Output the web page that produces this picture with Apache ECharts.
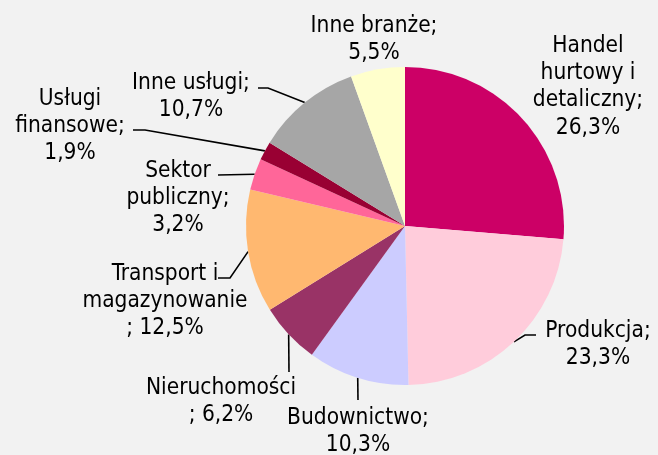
<!DOCTYPE html>
<html>
<head>
<meta charset="utf-8">
<style>
  html, body { margin: 0; padding: 0; background: #f2f2f2; }
  #chart { width: 658px; height: 455px; }
</style>
<script src="https://cdn.jsdelivr.net/npm/echarts@6/dist/echarts.min.js"></script>
</head>
<body>
<div id="chart"></div>
<script>
// Sectors, clockwise from 12 o'clock
const categories = [
  'Handel hurtowy i detaliczny',
  'Produkcja',
  'Budownictwo',
  'Nieruchomości',
  'Transport i magazynowanie',
  'Sektor publiczny',
  'Usługi finansowe',
  'Inne usługi',
  'Inne branże'
];
// Share of each sector, %
const values = [26.3, 23.3, 10.3, 6.2, 12.5, 3.2, 1.9, 10.7, 5.5];
// Label text; {v} is replaced with the formatted value
const labelTemplates = [
  'Handel\nhurtowy i\ndetaliczny;\n{v}',
  'Produkcja;\n{v}',
  'Budownictwo;\n{v}',
  'Nieruchomości\n; {v}',
  'Transport i\nmagazynowanie\n; {v}',
  'Sektor\npubliczny;\n{v}',
  'Usługi\nfinansowe;\n{v}',
  'Inne usługi;\n{v}',
  'Inne branże;\n{v}'
];
const colors = ['#cc0066', '#ffccdb', '#ccccff', '#993366', '#ffb870',
                '#ff6699', '#990033', '#a6a6a6', '#ffffcc'];

// Label placement: block centre and leader-line bends (null = no leader)
const labelPlacement = [
  { x: 588, y: 87,  bends: null },
  { x: 598, y: 345, bends: [[525, 335], [536, 335]] },
  { x: 358, y: 432, bends: [[358, 400]] },
  { x: 221, y: 402, bends: [[289, 372]] },
  { x: 165, y: 301, bends: [[230, 278], [218, 278]] },
  { x: 178, y: 198, bends: [[218, 175]] },
  { x: 70,  y: 126, bends: [[145, 130], [133, 130]] },
  { x: 191, y: 97,  bends: [[268, 88], [258, 88]] },
  { x: 374, y: 40,  bends: null }
];

const fmt = v => v.toFixed(1).replace('.', ',') + '%';

const chart = echarts.init(document.getElementById('chart'), null, { renderer: 'canvas' });

chart.setOption({
  backgroundColor: '#f2f2f2',
  animation: false,
  series: [{
    type: 'pie',
    center: [405, 226],
    radius: 159,
    startAngle: 90,
    clockwise: true,
    avoidLabelOverlap: false,
    silent: true,
    itemStyle: { borderWidth: 0 },
    label: {
      show: true,
      position: 'outside',
      fontFamily: '"DejaVu Sans Condensed", "DejaVu Sans"',
      fontSize: 22.5,
      lineHeight: 27.3,
      color: '#000',
      align: 'center',
      formatter: p => labelTemplates[p.dataIndex].replace('{v}', fmt(p.value))
    },
    labelLine: {
      show: true,
      length: 10,
      length2: 10,
      smooth: false,
      lineStyle: { color: '#000', width: 1.6 }
    },
    labelLayout: function (params) {
      const pl = labelPlacement[params.dataIndex];
      const out = { x: pl.x, y: pl.y, align: 'center', verticalAlign: 'middle' };
      if (pl.bends && params.labelLinePoints) {
        out.labelLinePoints = [params.labelLinePoints[0]].concat(pl.bends);
      }
      return out;
    },
    data: categories.map((name, i) => ({
      name: name,
      value: values[i],
      itemStyle: { color: colors[i] },
      labelLine: { show: labelPlacement[i].bends !== null }
    }))
  }]
});
</script>
</body>
</html>
